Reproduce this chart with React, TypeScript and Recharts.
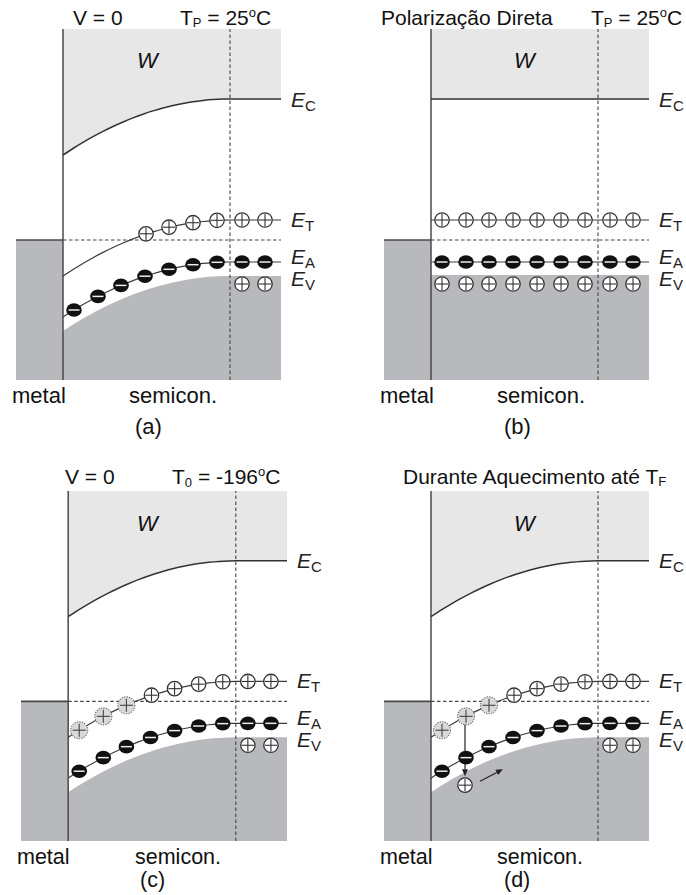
import React from 'react';
import {
  ComposedChart,
  Area,
  Line,
  Scatter,
  XAxis,
  YAxis,
  ReferenceLine,
  ReferenceArea,
  ReferenceDot,
} from 'recharts';

// ---------- data (depth from the metal/semiconductor interface, energy in arbitrary units) ----------
const depth = [0, 10, 20, 30, 40, 50, 60, 70, 80, 90, 100, 110, 120, 130, 140, 150, 160, 167, 218];
const ecBent = [22.5, 23.15, 23.76, 24.33, 24.86, 25.35, 25.8, 26.21, 26.58, 26.91, 27.2, 27.45, 27.66, 27.83, 27.95, 28.04, 28.09, 28.1, 28.1];
const etBent = [10.4, 11.05, 11.66, 12.23, 12.76, 13.25, 13.7, 14.11, 14.48, 14.81, 15.1, 15.35, 15.56, 15.73, 15.85, 15.94, 15.99, 16, 16];
const eaBent = [6.3, 6.94, 7.54, 8.1, 8.62, 9.1, 9.54, 9.94, 10.31, 10.63, 10.91, 11.16, 11.36, 11.53, 11.66, 11.74, 11.79, 11.8, 11.8];
const evBent = [4.9, 5.54, 6.14, 6.7, 7.22, 7.7, 8.14, 8.54, 8.91, 9.23, 9.51, 9.76, 9.96, 10.13, 10.26, 10.34, 10.39, 10.4, 10.4];

const flatDepth = [0, 218];
const ecFlat = [28.1, 28.1];
const etFlat = [16, 16];
const eaFlat = [11.8, 11.8];
const evFlat = [10.5, 10.5];

const TOP = 35.1;
const FERMI = 14;
const WIDTH_W = 167;
const METAL_X = -47;
const END_X = 218;

// trap / acceptor sites
const siteX = [11, 35, 58, 82, 106, 130, 154, 179, 202];
const eaSitesBent = [7.0, 8.36, 9.46, 10.38, 11.07, 11.53, 11.77, 11.8, 11.8];
const eaSitesFlat = [11.8, 11.8, 11.8, 11.8, 11.8, 11.8, 11.8, 11.8, 11.8];
const etSitesFlat = [16, 16, 16, 16, 16, 16, 16, 16, 16];
const evSitesFlat = [9.6, 9.6, 9.6, 9.6, 9.6, 9.6, 9.6, 9.6, 9.6];

const etHoleX = [83, 106, 130, 154, 179, 202];
const etHoleY = [14.62, 15.28, 15.73, 15.97, 16, 16];
const etGreyX = [11, 35, 58];
const etGreyY = [11.11, 12.5, 13.61];
const evHoleX = [179, 202];
const evHoleY = [9.6, 9.6];

const injectedHoleX = [34];
const injectedHoleY = [5.6];
const arrowsD = [
  { x1: 34, y1: 12.5, x2: 34, y2: 6.5 },
  { x1: 49, y1: 6.0, x2: 72, y2: 7.2 },
];

const bandLabels = [
  { sub: 'C', y: 28.1 },
  { sub: 'T', y: 16.1 },
  { sub: 'A', y: 12.4 },
  { sub: 'V', y: 10.15 },
];

// ---------- helpers ----------
const rows = (xs: number[], ec: number[], et: number[], ea: number[], ev: number[]) =>
  xs.map((x, i) => ({ x, ec: ec[i], et: et[i], ea: ea[i], ev: ev[i] }));
const pts = (xs: number[], ys: number[]) => xs.map((x, i) => ({ x, y: ys[i] }));

const bentRows = rows(depth, ecBent, etBent, eaBent, evBent);
const flatRows = rows(flatDepth, ecFlat, etFlat, eaFlat, evFlat);

const LIGHT = '#e7e7e8';
const DARK = '#b8b9bc';
const INK = '#3c3c3c';
const FONT = '"Liberation Sans", Arial, Helvetica, sans-serif';

const HoleShape = (p: any) => {
  const { cx, cy } = p;
  return (
    <g>
      <circle cx={cx} cy={cy} r={7.2} fill="#fff" stroke="#333" strokeWidth={1.3} />
      <line x1={cx - 6.2} x2={cx + 6.2} y1={cy} y2={cy} stroke="#333" strokeWidth={1.1} />
      <line x1={cx} x2={cx} y1={cy - 6.2} y2={cy + 6.2} stroke="#333" strokeWidth={1.1} />
    </g>
  );
};

const GreyShape = (p: any) => {
  const { cx, cy } = p;
  return (
    <g>
      <circle cx={cx} cy={cy} r={8.5} fill="#d9d9d9" stroke="#666" strokeWidth={1.1} strokeDasharray="1.2 1.3" />
      <line x1={cx - 6.5} x2={cx + 6.5} y1={cy} y2={cy} stroke="#444" strokeWidth={1.1} />
      <line x1={cx} x2={cx} y1={cy - 6.5} y2={cy + 6.5} stroke="#444" strokeWidth={1.1} />
    </g>
  );
};

const ElectronShape = (p: any) => {
  const { cx, cy } = p;
  return (
    <g>
      <ellipse cx={cx} cy={cy} rx={7.8} ry={6.8} fill="#111" />
      <line x1={cx - 5.5} x2={cx + 5.5} y1={cy} y2={cy} stroke="#eee" strokeWidth={1.5} />
    </g>
  );
};

const arrowShape = (p: any) => {
  const { x1, y1, x2, y2 } = p;
  const a = Math.atan2(y2 - y1, x2 - x1);
  const L = 7;
  const hw = 3;
  const bx = x2 - L * Math.cos(a);
  const by = y2 - L * Math.sin(a);
  const px = -Math.sin(a) * hw;
  const py = Math.cos(a) * hw;
  return (
    <g>
      <line x1={x1} y1={y1} x2={bx} y2={by} stroke="#222" strokeWidth={1.2} />
      <polygon points={`${x2},${y2} ${bx + px},${by + py} ${bx - px},${by - py}`} fill="#222" />
    </g>
  );
};

const bandLabel = (sub: string) => (props: any) => {
  const vb = props.viewBox || {};
  const x = (vb.x || 0) + (vb.width || 0) / 2;
  const y = (vb.y || 0) + (vb.height || 0) / 2;
  return (
    <text x={x + 10} y={y + 7.5} fontFamily={FONT} fontSize={21} fill="#222">
      <tspan fontStyle="italic">E</tspan>
      <tspan fontSize={15} dy={4}>{sub}</tspan>
    </text>
  );
};

type PanelProps = {
  left: number;
  top: number;
  margin: { top: number; left: number; right: number; bottom: number };
  data: any[];
  etHoles: { x: number; y: number }[];
  etGrey: { x: number; y: number }[];
  eaDots: { x: number; y: number }[];
  evHoles: { x: number; y: number }[];
  arrows?: { x1: number; y1: number; x2: number; y2: number }[];
};

function Panel({ left, top, margin, data, etHoles, etGrey, eaDots, evHoles, arrows = [] }: PanelProps) {
  return (
    <div style={{ position: 'absolute', left, top }}>
      <ComposedChart width={343} height={448} margin={margin} data={data}>
        <XAxis type="number" dataKey="x" domain={[METAL_X, END_X]} hide allowDataOverflow />
        <YAxis type="number" domain={[0, TOP]} hide allowDataOverflow />
        <Area
          dataKey={(d: any) => [d.ec, TOP]}
          type="monotone"
          fill={LIGHT}
          fillOpacity={1}
          stroke="none"
          isAnimationActive={false}
        />
        <Area dataKey="ev" type="monotone" fill={DARK} fillOpacity={1} stroke="none" baseValue={0} isAnimationActive={false} />
        <ReferenceArea x1={METAL_X} x2={0} y1={0} y2={FERMI} fill={DARK} fillOpacity={1} stroke="none" />
        <ReferenceLine segment={[{ x: METAL_X, y: FERMI }, { x: 0, y: FERMI }]} stroke="#4a4a4a" strokeWidth={1.6} />
        <ReferenceLine segment={[{ x: 0, y: FERMI }, { x: END_X, y: FERMI }]} stroke="#444" strokeWidth={1.1} strokeDasharray="3.5 2.5" />
        <ReferenceLine x={WIDTH_W} stroke="#444" strokeWidth={1.1} strokeDasharray="3.5 2.5" />
        <ReferenceLine x={0} stroke="#4a4a4a" strokeWidth={1.5} />
        <Line dataKey="ec" type="monotone" stroke="#333" strokeWidth={1.5} dot={false} isAnimationActive={false} />
        <Line dataKey="et" type="monotone" stroke={INK} strokeWidth={1.2} dot={false} isAnimationActive={false} />
        <Line dataKey="ea" type="monotone" stroke={INK} strokeWidth={1.2} dot={false} isAnimationActive={false} />
        {arrows.map((a, i) => (
          <ReferenceLine
            key={'ar' + i}
            segment={[{ x: a.x1, y: a.y1 }, { x: a.x2, y: a.y2 }]}
            shape={arrowShape}
            stroke="#222"
          />
        ))}
        <Scatter data={etGrey} dataKey="y" shape={GreyShape} isAnimationActive={false} />
        <Scatter data={etHoles} dataKey="y" shape={HoleShape} isAnimationActive={false} />
        <Scatter data={eaDots} dataKey="y" shape={ElectronShape} isAnimationActive={false} />
        <Scatter data={evHoles} dataKey="y" shape={HoleShape} isAnimationActive={false} />
        {bandLabels.map((b) => (
          <ReferenceDot key={b.sub} x={END_X} y={b.y} r={1} fill="none" stroke="none" label={bandLabel(b.sub)} />
        ))}
      </ComposedChart>
    </div>
  );
}

const T = (props: any) => <text fontFamily={FONT} fill="#111" {...props} />;

export default function App() {
  return (
    <div style={{ position: 'absolute', left: 0, top: 0, width: 686, height: 895, background: '#fff', overflow: 'hidden' }}>
      <Panel
        left={0}
        top={0}
        margin={{ top: 29, left: 16, right: 62, bottom: 68 }}
        data={bentRows}
        etHoles={pts(etHoleX, etHoleY)}
        etGrey={[]}
        eaDots={pts(siteX, eaSitesBent)}
        evHoles={pts(evHoleX, evHoleY)}
      />
      <Panel
        left={343}
        top={0}
        margin={{ top: 29, left: 41, right: 37, bottom: 68 }}
        data={flatRows}
        etHoles={pts(siteX, etSitesFlat)}
        etGrey={[]}
        eaDots={pts(siteX, eaSitesFlat)}
        evHoles={pts(siteX, evSitesFlat)}
      />
      <Panel
        left={0}
        top={448}
        margin={{ top: 43, left: 21, right: 56, bottom: 55 }}
        data={bentRows}
        etHoles={pts(etHoleX, etHoleY)}
        etGrey={pts(etGreyX, etGreyY)}
        eaDots={pts(siteX, eaSitesBent)}
        evHoles={pts(evHoleX, evHoleY)}
      />
      <Panel
        left={343}
        top={448}
        margin={{ top: 43, left: 41, right: 37, bottom: 55 }}
        data={bentRows}
        etHoles={pts(etHoleX, etHoleY).concat(pts(injectedHoleX, injectedHoleY))}
        etGrey={pts(etGreyX, etGreyY)}
        eaDots={pts(siteX, eaSitesBent)}
        evHoles={pts(evHoleX, evHoleY)}
        arrows={arrowsD}
      />
      <svg width={686} height={895} style={{ position: 'absolute', left: 0, top: 0, pointerEvents: 'none' }}>
        {/* panel a */}
        <T x={73} y={25} fontSize={21}>V = 0</T>
        <T x={180} y={25} fontSize={21}>
          T<tspan fontSize={13} dy={2}>P</tspan>
          <tspan dy={-2}> = 25</tspan>
          <tspan fontSize={13} dy={-8}>o</tspan>
          <tspan dy={8}>C</tspan>
        </T>
        <T x={137} y={68} fontSize={22} fontStyle="italic">W</T>
        <T x={12} y={403} fontSize={22}>metal</T>
        <T x={129} y={403} fontSize={22}>semicon.</T>
        <T x={135} y={434} fontSize={22}>(a)</T>
        {/* panel b */}
        <T x={381} y={25} fontSize={21}>Polarização Direta</T>
        <T x={591} y={25} fontSize={21}>
          T<tspan fontSize={13} dy={2}>P</tspan>
          <tspan dy={-2}> = 25</tspan>
          <tspan fontSize={13} dy={-8}>o</tspan>
          <tspan dy={8}>C</tspan>
        </T>
        <T x={514} y={68} fontSize={22} fontStyle="italic">W</T>
        <T x={380} y={403} fontSize={22}>metal</T>
        <T x={497} y={403} fontSize={22}>semicon.</T>
        <T x={504} y={434} fontSize={22}>(b)</T>
        {/* panel c */}
        <T x={65} y={484} fontSize={21}>V = 0</T>
        <T x={172} y={484} fontSize={21}>
          T<tspan fontSize={13} dy={3}>0</tspan>
          <tspan dy={-3}> = -196</tspan>
          <tspan fontSize={13} dy={-8}>o</tspan>
          <tspan dy={8}>C</tspan>
        </T>
        <T x={137} y={531} fontSize={22} fontStyle="italic">W</T>
        <T x={17} y={864} fontSize={21.5}>metal</T>
        <T x={135} y={864} fontSize={21.5}>semicon.</T>
        <T x={140} y={887} fontSize={21.5}>(c)</T>
        {/* panel d */}
        <T x={403} y={484} fontSize={21}>
          Durante Aquecimento até T<tspan fontSize={13} dy={2}>F</tspan>
        </T>
        <T x={514} y={531} fontSize={22} fontStyle="italic">W</T>
        <T x={380} y={864} fontSize={21.5}>metal</T>
        <T x={497} y={864} fontSize={21.5}>semicon.</T>
        <T x={504} y={887} fontSize={21.5}>(d)</T>
      </svg>
    </div>
  );
}
